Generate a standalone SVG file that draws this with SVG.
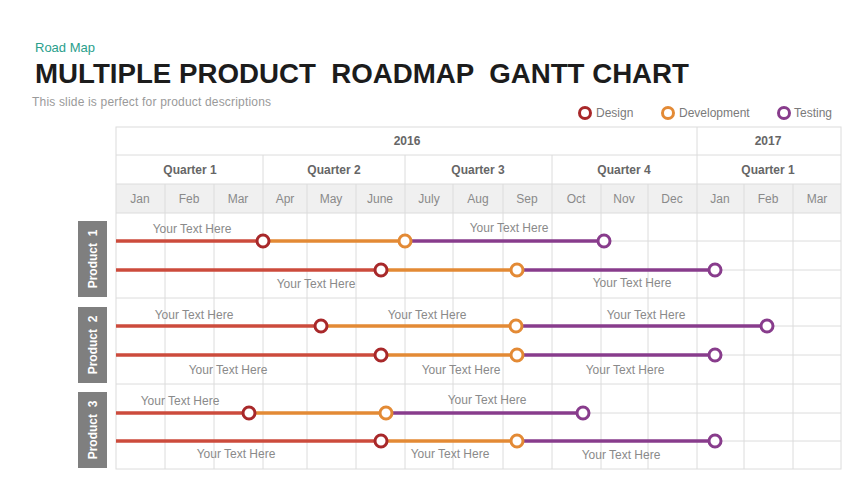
<svg xmlns="http://www.w3.org/2000/svg" width="853" height="480" viewBox="0 0 853 480">
<style>
text{font-family:"Liberation Sans",Arial,sans-serif;}
.grid{stroke:#dcdcdc;stroke-width:1;fill:none;}
.yr{font-size:12px;font-weight:bold;fill:#666;text-anchor:middle;}
.qt{font-size:12px;font-weight:bold;fill:#666;text-anchor:middle;}
.mo{font-size:12px;fill:#8a8a8a;text-anchor:middle;}
.lbl{font-size:12px;fill:#8a8a8a;text-anchor:middle;}
.leg{font-size:12px;fill:#7a7a7a;}
.pbox{fill:#7f7f7f;}
.ptxt{font-size:12px;font-weight:bold;fill:#fff;text-anchor:middle;}
.d{stroke:#cc4b3c;stroke-width:3.5;}
.v{stroke:#e38a35;stroke-width:3.5;}
.t{stroke:#883c8c;stroke-width:3.5;}
.cd{fill:#fff;stroke:#a8282a;stroke-width:3;}
.cv{fill:#fff;stroke:#e38a35;stroke-width:3;}
.ct{fill:#fff;stroke:#883c8c;stroke-width:3;}
</style>
<rect width="853" height="480" fill="#fff"/>
<g id="title">
<text x="35" y="52" font-size="13" fill="#2aa08c">Road Map</text>
<text x="35" y="83" font-size="27" font-weight="bold" fill="#1c1c1c" textLength="654" lengthAdjust="spacingAndGlyphs" xml:space="preserve">MULTIPLE PRODUCT  ROADMAP  GANTT CHART</text>
<text x="32" y="106" font-size="12" fill="#9a9a9a" textLength="239">This slide is perfect for product descriptions</text>
</g>
<g id="legend">
<circle cx="585" cy="113" r="5.5" class="cd"/><text x="596" y="117" class="leg">Design</text>
<circle cx="668" cy="113" r="5.5" class="cv"/><text x="679" y="117" class="leg">Development</text>
<circle cx="784" cy="113" r="5.5" class="ct"/><text x="794" y="117" class="leg">Testing</text>
</g>
<g id="table">
<rect x="116" y="184" width="725" height="29" fill="#f0f0f0"/>
<rect x="116" y="127" width="725" height="342" class="grid"/>
<path class="grid" d="M116 155H841M116 184H841M116 213H841M116 241H841M116 270H841M116 298H841M116 326H841M116 355H841M116 384H841M116 413H841M116 441H841"/>
<path class="grid" d="M697 127V469M263 155V469M405 155V469M552 155V469M165 184V469M214 184V469M307 184V469M356 184V469M453 184V469M503 184V469M601 184V469M648 184V469M744 184V469M793 184V469"/>
<text x="407" y="145" class="yr">2016</text>
<text x="768" y="145" class="yr">2017</text>
<text x="190" y="174" class="qt">Quarter 1</text>
<text x="334" y="174" class="qt">Quarter 2</text>
<text x="478" y="174" class="qt">Quarter 3</text>
<text x="624" y="174" class="qt">Quarter 4</text>
<text x="768" y="174" class="qt">Quarter 1</text>
<text x="140" y="203" class="mo">Jan</text>
<text x="189" y="203" class="mo">Feb</text>
<text x="238" y="203" class="mo">Mar</text>
<text x="285" y="203" class="mo">Apr</text>
<text x="331" y="203" class="mo">May</text>
<text x="380" y="203" class="mo">June</text>
<text x="429" y="203" class="mo">July</text>
<text x="478" y="203" class="mo">Aug</text>
<text x="527" y="203" class="mo">Sep</text>
<text x="576" y="203" class="mo">Oct</text>
<text x="624" y="203" class="mo">Nov</text>
<text x="672" y="203" class="mo">Dec</text>
<text x="720" y="203" class="mo">Jan</text>
<text x="768" y="203" class="mo">Feb</text>
<text x="817" y="203" class="mo">Mar</text>
</g>
<g id="product1">
<rect x="78" y="221" width="29" height="76" class="pbox"/>
<text class="ptxt" transform="translate(97 259) rotate(-90)" xml:space="preserve">Product  1</text>
</g>
<g id="product2">
<rect x="78" y="307" width="29" height="76" class="pbox"/>
<text class="ptxt" transform="translate(97 345) rotate(-90)" xml:space="preserve">Product  2</text>
</g>
<g id="product3">
<rect x="78" y="392" width="29" height="76" class="pbox"/>
<text class="ptxt" transform="translate(97 430) rotate(-90)" xml:space="preserve">Product  3</text>
</g>
<g id="connectors">
<line x1="116" y1="241" x2="263" y2="241" class="d"/><line x1="263" y1="241" x2="405" y2="241" class="v"/><line x1="405" y1="241" x2="604" y2="241" class="t"/>
<line x1="116" y1="270" x2="381" y2="270" class="d"/><line x1="381" y1="270" x2="517" y2="270" class="v"/><line x1="517" y1="270" x2="715" y2="270" class="t"/>
<line x1="116" y1="326" x2="321" y2="326" class="d"/><line x1="321" y1="326" x2="516" y2="326" class="v"/><line x1="516" y1="326" x2="767" y2="326" class="t"/>
<line x1="116" y1="355" x2="381" y2="355" class="d"/><line x1="381" y1="355" x2="517" y2="355" class="v"/><line x1="517" y1="355" x2="715" y2="355" class="t"/>
<line x1="116" y1="413" x2="249" y2="413" class="d"/><line x1="249" y1="413" x2="386" y2="413" class="v"/><line x1="386" y1="413" x2="583" y2="413" class="t"/>
<line x1="116" y1="441" x2="381" y2="441" class="d"/><line x1="381" y1="441" x2="517" y2="441" class="v"/><line x1="517" y1="441" x2="715" y2="441" class="t"/>
</g>
<g id="milestones">
<circle cx="263" cy="241" r="6" class="cd"/><circle cx="405" cy="241" r="6" class="cv"/><circle cx="604" cy="241" r="6" class="ct"/>
<circle cx="381" cy="270" r="6" class="cd"/><circle cx="517" cy="270" r="6" class="cv"/><circle cx="715" cy="270" r="6" class="ct"/>
<circle cx="321" cy="326" r="6" class="cd"/><circle cx="516" cy="326" r="6" class="cv"/><circle cx="767" cy="326" r="6" class="ct"/>
<circle cx="381" cy="355" r="6" class="cd"/><circle cx="517" cy="355" r="6" class="cv"/><circle cx="715" cy="355" r="6" class="ct"/>
<circle cx="249" cy="413" r="6" class="cd"/><circle cx="386" cy="413" r="6" class="cv"/><circle cx="583" cy="413" r="6" class="ct"/>
<circle cx="381" cy="441" r="6" class="cd"/><circle cx="517" cy="441" r="6" class="cv"/><circle cx="715" cy="441" r="6" class="ct"/>
</g>
<g id="labels">
<text x="192" y="233" class="lbl">Your Text Here</text>
<text x="509" y="232" class="lbl">Your Text Here</text>
<text x="316" y="288" class="lbl">Your Text Here</text>
<text x="632" y="287" class="lbl">Your Text Here</text>
<text x="194" y="319" class="lbl">Your Text Here</text>
<text x="427" y="319" class="lbl">Your Text Here</text>
<text x="646" y="319" class="lbl">Your Text Here</text>
<text x="228" y="374" class="lbl">Your Text Here</text>
<text x="461" y="374" class="lbl">Your Text Here</text>
<text x="625" y="374" class="lbl">Your Text Here</text>
<text x="180" y="405" class="lbl">Your Text Here</text>
<text x="487" y="404" class="lbl">Your Text Here</text>
<text x="236" y="458" class="lbl">Your Text Here</text>
<text x="450" y="458" class="lbl">Your Text Here</text>
<text x="621" y="459" class="lbl">Your Text Here</text>
</g>
</svg>
